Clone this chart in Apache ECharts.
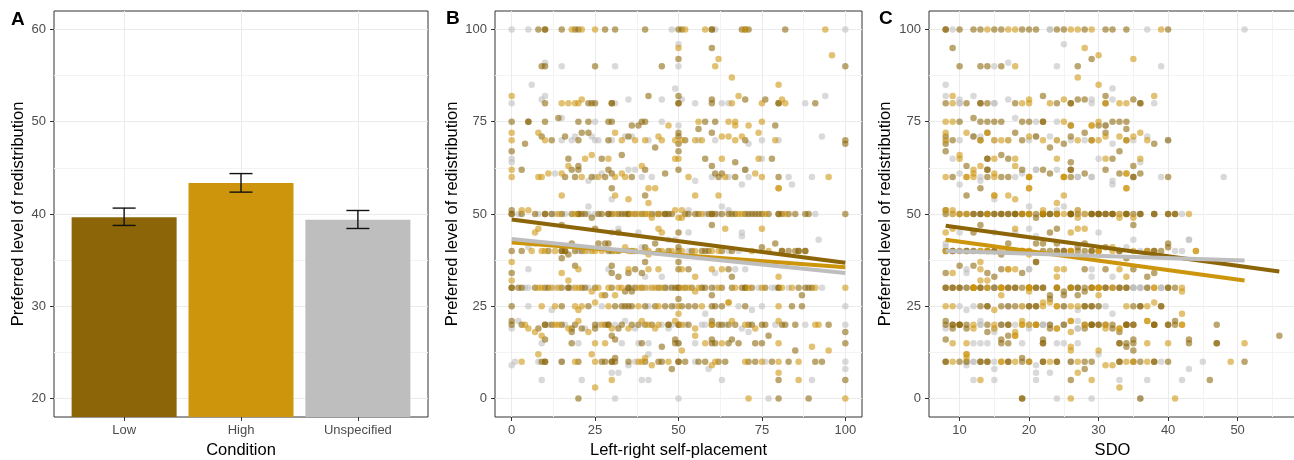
<!DOCTYPE html>
<html>
<head>
<meta charset="utf-8">
<title>Preferred level of redistribution</title>
<script src="https://cdn.jsdelivr.net/npm/echarts@6/dist/echarts.min.js"></script>
<style>
  html, body { margin: 0; padding: 0; background: #fff; }
  #chart { width: 1294px; height: 460px; }
</style>
</head>
<body>
<div id="chart"></div>
<script>
// ---- data ----
const conditions = ['Low', 'High', 'Unspecified']
const barMeans = [39.66, 43.35, 39.37]
const barLower = [38.76, 42.37, 38.43]
const barUpper = [40.64, 44.38, 40.38]

const yTicksA = [20, 30, 40, 50, 60]
const yMinorA = [25, 35, 45, 55]
const ticksB = [0, 25, 50, 75, 100]
const minorB = [12.5, 37.5, 62.5, 87.5]
const xTicksC = [10, 20, 30, 40, 50]
const xMinorC = [15, 25, 35, 45, 55]

// respondents: [left-right self-placement, SDO, preferred redistribution]
const lowPts = [
  [8,10,100],[10,12,100],[10,8,100],[15,13,100],[19,15,100],[20,16,100],[28,19,100],[31,20,100],[40,21,100],[50,24,100],[51,25,100],[60,28,100],[60,8,100],[69,31,100],[70,32,100],[71,34,100],[82,40,100],
  [9,10,90],[10,13,90],[25,16,90],[45,27,90],[100,14,90],[50,29,92],[60,9,95],[41,22,82],[50,31,82],
  [10,8,80],[23,11,80],[24,13,80],[25,13,80],[30,14,80],[30,26,80],[50,18,80],[50,26,80],[60,24,80],[70,27,81],[76,28,81],[80,31,80],[91,36,80],[80,36,80],[60,35,81],
  [0,10,75],[5,13,75],[10,14,75],[20,15,75],[23,16,75],[29,19,75],[30,20,75],[39,22,75],[40,32,75],[58,33,75],[61,34,75],[79,30,74],[14,12,76],[36,26,74],[38,31,74],[56,34,73],[5,22,75],
  [4,8,69],[9,8,71],[12,9,70],[16,12,71],[20,13,70],[21,14,72],[23,18,72],[29,19,70],[35,21,71],[43,23,68],[50,25,69],[50,26,71],[50,28,72],[52,29,70],[60,31,72],[70,34,70],[100,38,69],[100,40,70],
  [17,14,65],[27,17,65],[33,16,66],[50,33,67],[58,32,65],[67,26,64],[78,14,65],[0,8,67],[18,19,62],[20,11,63],[3,14,62],[60,35,63],[70,26,62],
  [16,9,60],[19,14,60],[20,14,62],[24,16,60],[28,17,60],[29,22,62],[30,23,61],[36,26,60],[40,26,62],[46,28,61],[50,31,62],[61,33,61],[62,35,60],[63,36,61],[67,40,60],[80,35,60],
  [40,11,55],[30,13,57],[0,8,51],
  [0,8,50],[0,12,50],[3,10,50],[7,11,50],[10,13,50],[10,15,50],[12,14,50],[15,14,50],[18,16,50],[20,17,50],[20,18,50],[21,18,50],[22,19,50],[24,21,49],[26,22,50],[27,22,50],[29,23,50],[29,24,50],[30,26,50],[32,26,50],[33,29,50],[34,30,50],[35,31,50],[35,12,50],[37,27,50],[39,32,50],[42,30,50],[44,32,50],[46,34,50],[46,36,50],[47,38,50],[48,40,50],[52,41,50],[53,20,50],[55,17,50],[56,18,50],[59,22,50],[60,23,50],[60,26,50],[61,29,50],[63,35,50],[65,24,50],[66,30,50],[67,31,50],[70,32,50],[71,34,50],[72,13,50],[73,15,50],[74,19,50],[75,21,50],[77,26,50],[80,36,50],[80,38,50],[81,40,50],[83,29,50],[85,16,50],[88,34,50],[89,22,50],[100,41,50],
  [15,13,47],[32,23,45],[50,12,45],[60,35,47],[25,24,46],
  [0,8,40],[3,12,40],[11,14,40],[15,9,40],[15,10,40],[16,11,40],[16,15,40],[17,16,39],[18,17,42],[19,17,40],[21,19,40],[26,21,42],[28,22,42],[29,23,40],[29,24,42],[30,24,40],[32,25,40],[36,18,40],[40,27,41],[43,28,42],[44,28,40],[47,29,40],[50,31,41],[50,33,40],[54,24,40],[57,37,40],[58,38,40],[59,38,40],[63,39,40],[66,27,40],[75,40,41],[79,40,42],[81,9,40],[81,11,40],[83,15,40],[85,19,40],[86,22,40],[86,25,40],[88,29,40],[88,33,40],
  [0,8,34],[19,10,36],[30,12,36],[30,14,34],[32,15,33],[37,16,35],[39,19,34],[50,21,37],[50,28,35],[53,31,35],[65,35,35],[66,37,33],[15,34,38],[35,38,34],[40,21,37],
  [0,8,30],[0,9,30],[2,10,30],[3,12,30],[7,11,30],[10,13,30],[11,15,30],[15,14,30],[17,17,30],[17,18,30],[21,19,30],[22,21,30],[25,22,30],[28,23,28],[30,24,30],[34,25,29],[35,26,30],[35,27,30],[36,28,29],[37,29,30],[39,31,30],[44,32,30],[46,20,30],[48,33,30],[49,34,30],[50,40,30],[50,41,30],[52,8,30],[54,28,30],[57,9,30],[58,10,30],[60,13,30],[63,17,30],[66,18,30],[69,26,30],[70,27,30],[70,31,30],[72,33,30],[76,37,30],[80,24,30],[80,21,30],[86,29,30],[88,34,30],[89,40,30],[90,22,30],[50,23,27],[87,25,28],[60,27,28],
  [0,13,25],[15,14,25],[23,17,25],[31,16,25],[33,18,25],[34,20,25],[35,21,25],[36,28,25],[40,29,25],[43,35,25],[46,36,25],[48,25,25],[51,39,25],[53,14,25],[55,20,25],[60,28,25],[61,39,25],[63,21,25],[70,30,25],[84,29,25],[87,36,25],
  [0,8,20],[0,8,21],[3,11,20],[8,9,19],[10,9,20],[10,10,20],[12,16,20],[15,10,20],[18,11,19],[18,14,18],[19,17,20],[21,23,19],[25,28,20],[25,28,19],[28,29,20],[29,29,20],[29,30,20],[32,32,19],[33,34,20],[36,21,20],[38,34,20],[40,35,20],[42,35,20],[47,38,20],[47,38,20],[50,40,20],[50,41,20],[53,25,20],[60,41,21],[60,47,20],[62,9,20],[63,10,20],[65,31,20],[67,14,20],[71,17,20],[72,23,20],[75,30,20],[76,32,20],[81,40,20],[82,29,20],[85,38,20],[95,34,20],
  [10,8,16],[18,16,15],[30,17,17],[31,22,16],[39,33,15],[45,34,14],[49,35,15],[49,43,16],[50,47,15],[60,33,15],[60,16,16],[61,22,15],[65,34,15],[66,35,16],[68,17,15],[73,43,15],[75,47,15],[77,56,17],[85,35,13],[100,22,15],[100,33,18],
  [9,8,10],[10,8,10],[10,13,10],[15,11,10],[20,13,10],[27,14,10],[28,14,10],[30,17,10],[30,17,10],[31,10,10],[31,19,11],[35,20,10],[40,22,10],[44,24,10],[45,24,10],[48,28,8],[50,29,10],[50,33,10],[52,35,10],[56,36,10],[58,26,10],[62,38,10],[64,40,10],[71,51,10],[73,19,10],[78,22,10],[83,28,10],[91,33,10],[93,38,10],
  [80,26,5],[100,46,5],[20,19,0],[80,36,0],[89,19,0]
]

const highPts = [
  [18,14,100],[21,17,100],[25,18,100],[52,26,100],[58,27,100],[70,29,100],[94,39,100],
  [61,18,90],[62,35,92],[50,28,95],[96,30,93],[66,27,87],[80,30,85],[0,9,82],[68,38,82],
  [15,9,80],[17,19,80],[19,20,80],[20,23,80],[21,25,81],[66,33,80],[75,34,80],[81,20,81],[82,31,80],
  [56,8,75],[65,9,75],[67,25,75],[71,29,74],[75,30,75],[47,29,74],[67,26,74],
  [0,8,70],[0,8,72],[8,11,72],[10,13,70],[31,14,72],[33,15,70],[37,16,70],[40,17,70],[44,20,71],[45,22,70],[49,24,70],[51,27,70],[55,29,70],[57,30,70],[63,31,71],[65,33,71],[67,34,70],[69,35,71],[74,36,72],[79,37,70],
  [22,10,65],[24,10,66],[29,15,65],[49,18,65],[63,24,65],[17,13,63],[39,18,63],[0,12,62],[50,31,65],[74,36,65],
  [0,8,60],[8,11,60],[9,12,60],[11,12,61],[15,15,61],[21,20,60],[26,20,60],[31,25,60],[33,34,61],[34,25,60],[41,20,57],[43,34,57],[53,11,60],[64,25,60],[73,34,61],[75,15,60],[95,20,60],
  [15,15,55],[31,17,55],[35,18,54],[41,24,53],[55,25,55],[80,20,57],[80,34,57],[62,15,55],[3,9,51],[51,22,51],
  [5,8,51],[14,11,50],[19,9,50],[31,10,50],[36,14,50],[38,20,50],[40,24,50],[41,25,50],[42,27,49],[44,19,50],[49,27,51],[50,33,49],[51,35,49],[57,22,50],[68,43,50],[69,20,50],[76,33,50],[82,28,50],
  [7,8,45],[8,9,46],[44,27,46],[45,26,45],[64,28,46],[75,18,46],
  [0,13,37],[0,14,32],[6,8,40],[9,13,40],[10,14,40],[13,20,40],[22,20,40],[24,26,40],[25,30,40],[27,16,40],[31,35,40],[34,32,41],[35,44,40],[37,30,40],[41,26,40],[41,20,39],[45,14,40],[48,32,40],[51,13,40],[55,30,40],[60,44,40],[62,37,40],[72,26,40],[77,19,40],
  [15,9,34],[17,13,32],[20,17,35],[35,18,35],[41,24,35],[44,25,35],[51,33,35],[55,34,33],[60,13,35],[63,17,35],[80,24,33],
  [8,12,30],[9,16,30],[12,20,30],[14,30,30],[19,38,30],[20,24,30],[24,42,29],[26,12,30],[27,16,28],[29,20,30],[31,30,28],[32,12,30],[33,16,30],[38,20,30],[40,29,30],[42,38,30],[43,42,30],[45,30,30],[51,12,30],[53,16,30],[55,20,29],[56,26,30],[62,30,30],[65,38,26],[67,32,30],[71,20,30],[75,16,30],[81,12,30],[84,30,30],[91,14,30],[100,20,30],
  [9,8,25],[13,19,25],[19,9,25],[20,15,24],[21,22,25],[25,23,26],[29,24,25],[38,26,25],[44,34,25],[50,37,25],[50,42,23],[57,27,25],[65,22,26],[80,24,25],
  [4,12,20],[5,15,19],[7,18,18],[9,18,17],[13,19,20],[14,21,20],[17,24,19],[20,26,21],[23,26,18],[27,20,20],[30,31,19],[35,33,19],[39,37,21],[41,42,20],[43,12,19],[44,15,20],[49,19,21],[51,21,20],[55,24,19],[60,28,20],[66,26,21],[70,31,20],[73,33,19],[80,37,21],[91,42,20],[92,19,20],
  [25,9,15],[28,11,15],[51,26,13],[55,18,17],[58,37,15],[63,40,15],[80,51,15],[90,26,14],[95,30,13],[8,11,12],[40,11,11],
  [3,9,10],[19,16,10],[25,18,10],[38,20,10],[39,27,10],[42,31,9],[47,23,10],[60,32,9],[61,34,10],[70,37,10],[75,49,10],[80,16,10],[86,35,10],
  [30,13,5],[86,29,5],[25,33,3],[71,41,0],[100,26,0],[80,27,7],[24,11,12]
]

const unspecPts = [
  [0,9,100],[5,23,100],[48,23,100],[61,37,100],[100,51,100],
  [15,15,90],[31,24,90],[50,39,90],[10,17,91],[50,25,96],[6,8,85],[49,32,84],[10,8,82],[94,12,82],
  [0,10,80],[9,10,81],[31,15,80],[35,17,81],[45,29,81],[51,32,81],[55,38,80],[63,10,80],[65,15,80],[88,29,80],
  [15,18,76],[25,21,75],[45,24,75],[50,31,74],
  [15,8,70],[18,10,70],[19,12,71],[24,13,71],[25,15,70],[26,17,70],[30,20,70],[34,21,71],[36,23,71],[41,24,70],[56,26,70],[61,28,70],[71,32,69],[75,35,70],[80,40,70],[93,37,71],
  [0,9,65],[0,36,64],[75,30,65],
  [13,10,61],[23,13,59],[25,18,60],[27,19,61],[35,21,62],[37,24,62],[39,27,60],[42,29,60],[55,32,59],[60,39,60],[65,48,60],[69,10,58],[70,21,62],[71,29,60],[83,13,60],[90,27,60],
  [30,15,54],[23,25,52],[84,32,58],[63,20,52],
  [2,9,50],[8,28,50],[12,42,50],[13,13,50],[16,16,50],[23,20,50],[25,26,50],[40,23,50],[43,28,50],[45,30,50],[47,33,50],[53,24,51],[58,31,50],[62,38,50],[65,27,51],[91,36,50],
  [30,10,45],[53,15,45],[69,18,45],[32,20,46],[69,21,44],[38,30,45],[47,43,43],
  [5,8,41],[7,8,42],[20,12,40],[23,18,40],[39,34,41],[49,35,43],[53,36,40],[65,41,40],[68,42,40],[92,43,43],
  [5,11,35],[29,20,35],[40,29,33],[45,32,33],[61,11,34],[67,20,35],[70,29,35],
  [4,15,30],[5,35,30],[13,36,30],[18,39,30],[23,15,30],[36,37,30],[41,35,30],[46,36,30],[47,39,30],[57,11,30],[61,15,30],[74,35,30],[78,36,30],[79,39,30],[83,15,30],[93,35,30],
  [5,10,25],[12,11,24],[27,12,25],[41,17,25],[49,19,25],[68,25,25],[72,27,24],[75,30,25],[100,31,25],[58,32,23],
  [0,8,19],[2,13,21],[11,18,20],[16,16,20],[22,20,19],[26,22,20],[31,25,20],[34,27,21],[37,27,19],[45,13,20],[48,16,20],[52,20,20],[57,22,20],[58,25,20],[64,23,20],[69,27,19],[79,13,20],[88,20,20],[100,22,20],
  [9,12,15],[33,13,15],[38,14,15],[47,15,19],[71,15,18],[20,19,15],[50,24,15],[41,25,15],[55,27,15],
  [0,11,9],[1,11,10],[8,12,10],[15,15,10],[35,21,9],[37,26,10],[41,30,12],[55,39,10],[59,43,8],[76,45,10],[100,12,10],[100,15,8],
  [9,12,5],[21,15,5],[41,21,5],[32,21,7],[30,23,7],[31,29,0],[50,24,0],[77,36,0],[39,33,5],[63,37,5],[90,42,5]
]

// fitted lines (end points)
const fitLowB = [[0, 48.5], [100, 36.8]]
const fitHighB = [[0, 42.3], [100, 35.6]]
const fitUnspecB = [[0, 43.2], [100, 34.0]]
const fitLowC = [[8, 46.8], [56, 34.4]]
const fitHighC = [[8, 43.0], [51, 32.0]]
const fitUnspecC = [[8, 40.0], [51, 37.4]]

// ---- style ----
const colors = ['#8B6508', '#CD950C', '#BEBEBE']
const font = 'Liberation Sans'
const yTitle = 'Preferred level of redistribution'

function gridBox(left) {
  return {
    left: left, top: 11, width: left === 54 ? 374 : 367, height: 406,
    show: true, borderColor: '#333333', borderWidth: 1, backgroundColor: 'transparent',
    containLabel: false, outerBoundsMode: 'none'
  }
}

function majorAxis(gridIndex, min, max, ticks, extra) {
  return Object.assign({
    type: 'value', gridIndex: gridIndex, min: min, max: max,
    axisLine: { show: false, onZero: false },
    axisTick: { show: true, length: 4, customValues: ticks, lineStyle: { color: '#333333', width: 1 } },
    axisLabel: { customValues: ticks, color: '#4D4D4D', fontSize: 13, fontFamily: font, margin: 8 },
    splitLine: { show: true, lineStyle: { color: '#EBEBEB', width: 1 } },
    nameLocation: 'middle',
    nameTextStyle: { color: '#000', fontSize: 16.5, fontFamily: font }
  }, extra)
}

function minorAxis(gridIndex, min, max, ticks) {
  return {
    type: 'value', gridIndex: gridIndex, min: min, max: max,
    axisLine: { show: false, onZero: false },
    axisTick: { show: false, customValues: ticks },
    axisLabel: { show: false, customValues: ticks },
    splitLine: { show: true, lineStyle: { color: '#F3F3F3', width: 1 } }
  }
}

function scatter(pts, xi, yi, col, xIdx, yIdx) {
  return {
    type: 'scatter', xAxisIndex: xIdx, yAxisIndex: yIdx,
    data: pts.map(p => [p[xi], p[yi]]),
    symbolSize: 6.5,
    itemStyle: { color: col, opacity: 0.58 },
    z: 3, silent: true
  }
}

function fitLine(data, col, xIdx, yIdx) {
  return {
    type: 'line', xAxisIndex: xIdx, yAxisIndex: yIdx,
    data: data, showSymbol: false, symbol: 'none',
    lineStyle: { color: col, width: 4 },
    z: 5, silent: true
  }
}

const chart = echarts.init(document.getElementById('chart'))

chart.setOption({
  animation: false,
  grid: [gridBox(54), gridBox(495), gridBox(929)],
  xAxis: [
    majorAxis(0, 0.4, 3.6, [1, 2, 3], {
      name: 'Condition', nameGap: 24,
      axisLabel: { customValues: [1, 2, 3], color: '#4D4D4D', fontSize: 13, fontFamily: font, margin: 7,
        formatter: v => conditions[Math.round(v) - 1] }
    }),
    majorAxis(1, -5, 105, ticksB, {
      name: 'Left-right self-placement', nameGap: 24,
      axisLabel: { customValues: ticksB, color: '#4D4D4D', fontSize: 13, fontFamily: font, margin: 7 }
    }),
    minorAxis(1, -5, 105, minorB),
    majorAxis(2, 5.6, 58.4, xTicksC, {
      name: 'SDO', nameGap: 24,
      axisLabel: { customValues: xTicksC, color: '#4D4D4D', fontSize: 13, fontFamily: font, margin: 7 }
    }),
    minorAxis(2, 5.6, 58.4, xMinorC)
  ],
  yAxis: [
    majorAxis(0, 18, 62, yTicksA, { name: yTitle, nameGap: 27 }),
    minorAxis(0, 18, 62, yMinorA),
    majorAxis(1, -5, 105, ticksB, { name: yTitle, nameGap: 31 }),
    minorAxis(1, -5, 105, minorB),
    majorAxis(2, -5, 105, ticksB, { name: yTitle, nameGap: 35.5 }),
    minorAxis(2, -5, 105, minorB)
  ],
  graphic: [
    { type: 'text', left: 11, top: 10, style: { text: 'A', fontSize: 19, fontWeight: 'bold', fontFamily: font, fill: '#000' } },
    { type: 'text', left: 446, top: 9, style: { text: 'B', fontSize: 19, fontWeight: 'bold', fontFamily: font, fill: '#000' } },
    { type: 'text', left: 879, top: 9, style: { text: 'C', fontSize: 19, fontWeight: 'bold', fontFamily: font, fill: '#000' } }
  ],
  series: [
    // A: means
    {
      type: 'bar', xAxisIndex: 0, yAxisIndex: 0,
      data: barMeans.map((v, i) => ({ value: [i + 1, v], itemStyle: { color: colors[i] } })),
      barWidth: 105, clip: true, z: 2, silent: true
    },
    // A: error bars
    {
      type: 'custom', xAxisIndex: 0, yAxisIndex: 0,
      data: barMeans.map((v, i) => [i + 1, barLower[i], barUpper[i]]),
      renderItem: function(params, api) {
        const top = api.coord([api.value(0), api.value(2)])
        const bot = api.coord([api.value(0), api.value(1)])
        const half = 11.5
        const st = { stroke: '#111111', lineWidth: 1.4 }
        return {
          type: 'group',
          children: [
            { type: 'line', shape: { x1: top[0], y1: top[1], x2: bot[0], y2: bot[1] }, style: st },
            { type: 'line', shape: { x1: top[0] - half, y1: top[1], x2: top[0] + half, y2: top[1] }, style: st },
            { type: 'line', shape: { x1: bot[0] - half, y1: bot[1], x2: bot[0] + half, y2: bot[1] }, style: st }
          ]
        }
      },
      z: 4, silent: true
    },
    // B
    scatter(unspecPts, 0, 2, colors[2], 1, 2),
    scatter(lowPts, 0, 2, colors[0], 1, 2),
    scatter(highPts, 0, 2, colors[1], 1, 2),
    fitLine(fitLowB, colors[0], 1, 2),
    fitLine(fitHighB, colors[1], 1, 2),
    fitLine(fitUnspecB, colors[2], 1, 2),
    // C
    scatter(unspecPts, 1, 2, colors[2], 3, 4),
    scatter(lowPts, 1, 2, colors[0], 3, 4),
    scatter(highPts, 1, 2, colors[1], 3, 4),
    fitLine(fitLowC, colors[0], 3, 4),
    fitLine(fitHighC, colors[1], 3, 4),
    fitLine(fitUnspecC, colors[2], 3, 4)
  ]
})
</script>
</body>
</html>
